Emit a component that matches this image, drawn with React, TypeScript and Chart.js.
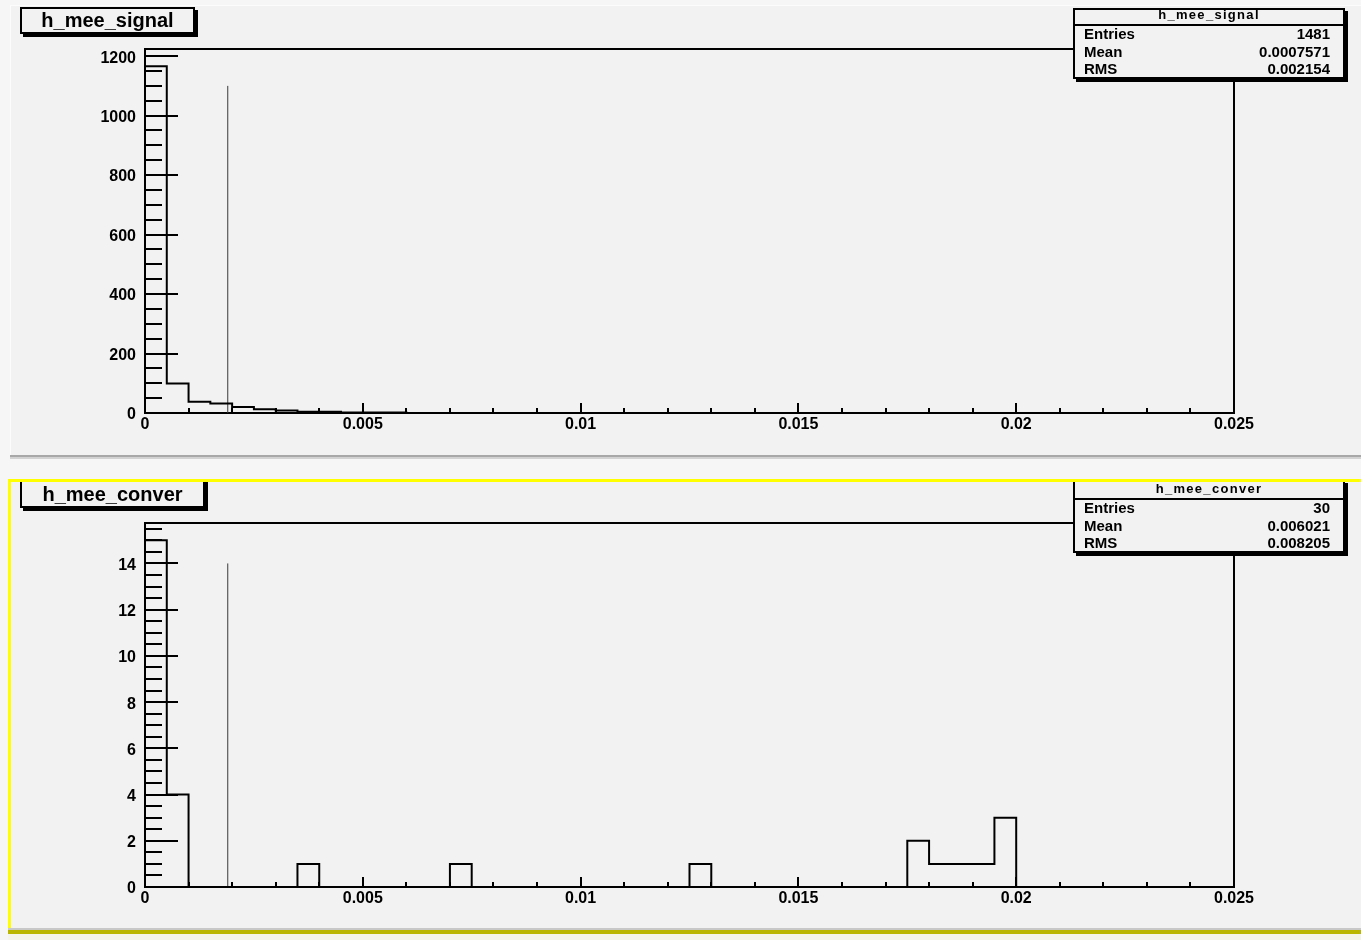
import React, { useEffect, useRef } from "react";
import { Chart, registerables } from "chart.js";

Chart.register(...registerables);

const FONT = '"Liberation Sans", Arial, Helvetica, sans-serif';
const PAGE_BG = "#f6f6f6";
const PAD_BG = "#f2f2f2";
const W = 1361;
const CANVAS_H = 466;
const PANEL_DY = 474;

// ---- axes ----
const X_MIN = 0;
const X_MAX = 0.025;
const BIN_WIDTH = 0.0005;
const X_MINOR_STEP = 0.001;
const xTickValues = [0, 0.005, 0.01, 0.015, 0.02, 0.025];
const xTickLabels = ["0", "0.005", "0.01", "0.015", "0.02", "0.025"];

// ---- h_mee_signal ----
const signalCounts = [
  1166, 99, 38, 32, 20, 13, 8, 4, 4, 2,
  2, 2, 0, 0, 0, 0, 0, 0, 0, 0,
  0, 0, 0, 0, 0, 0, 0, 0, 0, 0,
  0, 0, 0, 0, 0, 0, 0, 0, 0, 0,
  0, 0, 0, 0, 0, 0, 0, 0, 0, 0,
];
const signalYMax = 1224;
const signalYMinorStep = 50;
const signalYTickValues = [0, 200, 400, 600, 800, 1000, 1200];
const signalYTickLabels = ["0", "200", "400", "600", "800", "1000", "1200"];
const signalMarkerX = [0.0019, 0.0019];
const signalMarkerY = [0, 1100];
const signalStatNames = ["Entries", "Mean", "RMS"];
const signalStatValues = ["1481", "0.0007571", "0.002154"];

// ---- h_mee_conver ----
const converCounts = [
  15, 4, 0, 0, 0, 0, 0, 1, 0, 0,
  0, 0, 0, 0, 1, 0, 0, 0, 0, 0,
  0, 0, 0, 0, 0, 1, 0, 0, 0, 0,
  0, 0, 0, 0, 0, 2, 1, 1, 1, 3,
  0, 0, 0, 0, 0, 0, 0, 0, 0, 0,
];
const converYMax = 15.75;
const converYMinorStep = 0.5;
const converYTickValues = [0, 2, 4, 6, 8, 10, 12, 14];
const converYTickLabels = ["0", "2", "4", "6", "8", "10", "12", "14"];
const converMarkerX = [0.0019, 0.0019];
const converMarkerY = [0, 14];
const converStatNames = ["Entries", "Mean", "RMS"];
const converStatValues = ["30", "0.006021", "0.008205"];

const near = (a: number, b: number, eps: number) => Math.abs(a - b) < eps;

type HistProps = {
  top: number;
  counts: number[];
  yMax: number;
  yMinorStep: number;
  yTickValues: number[];
  yTickLabels: string[];
  markerX: number[];
  markerY: number[];
};

function HistCanvas(p: HistProps) {
  const ref = useRef<HTMLCanvasElement>(null);
  useEffect(() => {
    const canvas = ref.current;
    if (!canvas) return;
    const histPoints: { x: number; y: number }[] = [{ x: X_MIN, y: 0 }];
    p.counts.forEach((c, i) => histPoints.push({ x: X_MIN + i * BIN_WIDTH, y: c }));
    histPoints.push({ x: X_MAX, y: 0 });
    const markerPoints = p.markerX.map((x, i) => ({ x, y: p.markerY[i] }));

    const isYMajor = (v: number) => p.yTickValues.some((t) => near(t, v, p.yMinorStep * 1e-3));
    const isXMajor = (v: number) => xTickValues.some((t) => near(t, v, 1e-7));

    const framePlugin = {
      id: "rootFrame",
      beforeDatasetsDraw(chart: any) {
        const { ctx, chartArea: a, scales } = chart;
        const xs = scales.x;
        const ys = scales.y;
        ctx.save();
        ctx.strokeStyle = "#000";
        ctx.lineWidth = 2;
        ctx.lineCap = "butt";
        ctx.strokeRect(a.left, a.top, a.right - a.left, a.bottom - a.top);
        ys.ticks.forEach((t: any) => {
          const py = Math.round(ys.getPixelForValue(t.value));
          const len = isYMajor(t.value) ? 33 : 17;
          ctx.beginPath();
          ctx.moveTo(a.left, py);
          ctx.lineTo(a.left + len, py);
          ctx.stroke();
        });
        xs.ticks.forEach((t: any) => {
          const px = Math.round(xs.getPixelForValue(t.value));
          const len = isXMajor(t.value) ? 10 : 5;
          ctx.beginPath();
          ctx.moveTo(px, a.bottom);
          ctx.lineTo(px, a.bottom - len);
          ctx.stroke();
        });
        ctx.restore();
      },
    };

    const tickFont = { family: FONT, size: 16, weight: "bold" as const };

    const chart = new Chart(canvas, {
      type: "line",
      data: {
        datasets: [
          {
            data: histPoints,
            stepped: "before",
            borderColor: "#000",
            borderWidth: 2,
            pointRadius: 0,
            fill: false,
            borderJoinStyle: "miter",
          },
          {
            data: markerPoints,
            borderColor: "#3a3a3a",
            borderWidth: 1,
            pointRadius: 0,
            fill: false,
          },
        ],
      } as any,
      options: {
        animation: false,
        responsive: false,
        maintainAspectRatio: false,
        events: [],
        layout: { padding: { top: 49, right: 127, left: 0, bottom: 0 } },
        plugins: { legend: { display: false }, tooltip: { enabled: false }, title: { display: false } },
        scales: {
          x: {
            type: "linear",
            min: X_MIN,
            max: X_MAX,
            grid: { display: false, drawTicks: false },
            border: { display: false },
            afterBuildTicks: (s: any) => {
              const n = Math.round((X_MAX - X_MIN) / X_MINOR_STEP);
              const ticks = [];
              for (let k = 0; k <= n; k++) ticks.push({ value: Number((X_MIN + k * X_MINOR_STEP).toFixed(6)) });
              s.ticks = ticks;
            },
            afterFit: (s: any) => {
              s.height = CANVAS_H - 413;
            },
            ticks: {
              autoSkip: false,
              maxRotation: 0,
              minRotation: 0,
              padding: 2,
              color: "#000",
              font: tickFont,
              callback: (v: any) => {
                const i = xTickValues.findIndex((t) => near(t, Number(v), 1e-7));
                return i >= 0 ? xTickLabels[i] : "";
              },
            },
          },
          y: {
            type: "linear",
            min: 0,
            max: p.yMax,
            grid: { display: false, drawTicks: false },
            border: { display: false },
            afterBuildTicks: (s: any) => {
              const ticks = [];
              for (let k = 0; k * p.yMinorStep <= p.yMax + 1e-9; k++) ticks.push({ value: k * p.yMinorStep });
              s.ticks = ticks;
            },
            afterFit: (s: any) => {
              s.width = 145;
            },
            ticks: {
              autoSkip: false,
              padding: 9,
              labelOffset: 2,
              color: "#000",
              font: tickFont,
              callback: (v: any) => {
                const i = p.yTickValues.findIndex((t) => near(t, Number(v), p.yMinorStep * 1e-3));
                return i >= 0 ? p.yTickLabels[i] : "";
              },
            },
          },
        },
      } as any,
      plugins: [framePlugin],
    });
    return () => chart.destroy();
  }, []);
  return (
    <canvas
      ref={ref}
      width={W}
      height={CANVAS_H}
      style={{ position: "absolute", left: 0, top: p.top, width: W, height: CANVAS_H, display: "block" }}
    />
  );
}

type TextProps = {
  x: number;
  y: number;
  align: "left" | "right" | "center";
  size: number;
  weight?: string;
  ls?: number;
  children: React.ReactNode;
};

function Txt({ x, y, align, size, weight = "bold", ls = 0, children }: TextProps) {
  const lh = Math.round(size * 1.3);
  const base: React.CSSProperties = {
    position: "absolute",
    top: y - lh / 2,
    lineHeight: `${lh}px`,
    height: lh,
    fontFamily: FONT,
    fontSize: size,
    fontWeight: weight as any,
    letterSpacing: ls,
    color: "#000",
    whiteSpace: "nowrap",
  };
  if (align === "left") return <div style={{ ...base, left: x }}>{children}</div>;
  if (align === "right") return <div style={{ ...base, right: W - x, textAlign: "right" }}>{children}</div>;
  return <div style={{ ...base, left: x - 200, width: 400, textAlign: "center" }}>{children}</div>;
}

function Box({ left, top, width, height }: { left: number; top: number; width: number; height: number }) {
  return (
    <div
      style={{
        position: "absolute",
        left,
        top,
        width,
        height,
        boxSizing: "border-box",
        border: "2px solid #000",
        boxShadow: "3px 3px 0 #000",
        background: PAD_BG,
      }}
    />
  );
}

function Decorations({ dy, title, titleWidth, titleBoxTop, statNames, statValues }: any) {
  const boxTop = dy === 0 ? 8 : dy + 6;
  const boxH = 79 + dy - boxTop;
  return (
    <>
      <Box left={20} top={titleBoxTop} width={titleWidth} height={34 + dy - titleBoxTop} />
      <Txt x={20 + titleWidth / 2} y={19.5 + dy} align="center" size={20}>
        {title}
      </Txt>
      <Box left={1073} top={boxTop} width={272} height={boxH} />
      <div style={{ position: "absolute", left: 1073, top: 24 + dy, width: 272, height: 2, background: "#000" }} />
      <Txt x={1209} y={14.5 + dy} align="center" size={13} ls={1.3}>
        {title}
      </Txt>
      {statNames.map((n: string, i: number) => (
        <React.Fragment key={n}>
          <Txt x={1084} y={34 + dy + i * 17.6} align="left" size={15}>
            {n}
          </Txt>
          <Txt x={1330} y={34 + dy + i * 17.6} align="right" size={15}>
            {statValues[i]}
          </Txt>
        </React.Fragment>
      ))}
    </>
  );
}

export default function App() {
  return (
    <div style={{ position: "absolute", left: 0, top: 0, width: W, height: 940, overflow: "hidden", background: PAGE_BG }}>
      {/* top pad */}
      <div style={{ position: "absolute", left: 10, top: 5, width: W - 10, height: 450, background: PAD_BG, borderTop: "1px solid #fcfcfc", borderLeft: "1px solid #fcfcfc", boxSizing: "border-box" }} />
      <div style={{ position: "absolute", left: 10, top: 455, width: W - 10, height: 2, background: "#a8a8a8" }} />
      <div style={{ position: "absolute", left: 10, top: 457, width: W - 10, height: 2, background: "#d2d2d2" }} />
      {/* bottom pad */}
      <div style={{ position: "absolute", left: 8, top: 479, width: W - 8, height: 451, background: PAD_BG }} />

      <HistCanvas
        top={0}
        counts={signalCounts}
        yMax={signalYMax}
        yMinorStep={signalYMinorStep}
        yTickValues={signalYTickValues}
        yTickLabels={signalYTickLabels}
        markerX={signalMarkerX}
        markerY={signalMarkerY}
      />
      <HistCanvas
        top={PANEL_DY}
        counts={converCounts}
        yMax={converYMax}
        yMinorStep={converYMinorStep}
        yTickValues={converYTickValues}
        yTickLabels={converYTickLabels}
        markerX={converMarkerX}
        markerY={converMarkerY}
      />

      <Decorations dy={0} title="h_mee_signal" titleWidth={175} titleBoxTop={7} statNames={signalStatNames} statValues={signalStatValues} />
      <Decorations dy={PANEL_DY} title="h_mee_conver" titleWidth={185} titleBoxTop={479} statNames={converStatNames} statValues={converStatValues} />

      {/* selected-pad highlight (yellow) */}
      <div style={{ position: "absolute", left: 8, top: 479, width: W - 8, height: 3, background: "#ffff00" }} />
      <div style={{ position: "absolute", left: 8, top: 479, width: 2.5, height: 455, background: "#ffff00" }} />
      <div style={{ position: "absolute", left: 8, top: 928, width: W - 8, height: 2, background: "#c8c8c8" }} />
      <div style={{ position: "absolute", left: 8, top: 930, width: W - 8, height: 4, background: "#bab600" }} />
      <div style={{ position: "absolute", left: 8, top: 934, width: W - 8, height: 6, background: "#f4f4e8" }} />
    </div>
  );
}
